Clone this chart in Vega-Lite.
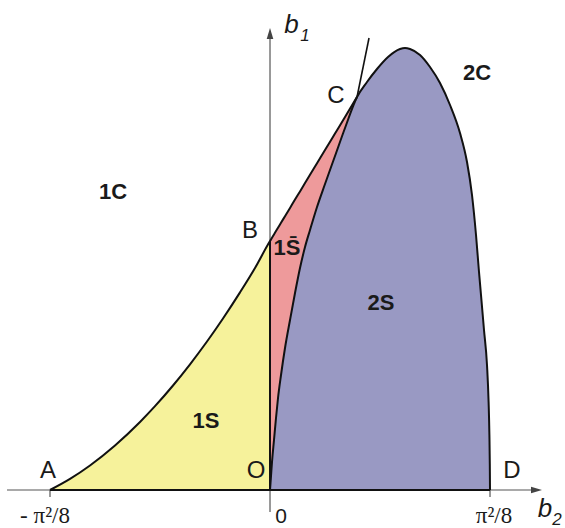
{
  "$schema": "https://vega.github.io/schema/vega-lite/v6.json",
  "width": 565,
  "height": 528,
  "autosize": "none",
  "padding": 0,
  "background": "white",
  "config": {"view": {"stroke": null}, "font": "Liberation Sans"},
  "datasets": {
    "curve1C": [
      {"b2": -1.2337, "b1": 0}, {"b2": -1.1215, "b1": 0.0622}, {"b2": -1.0094, "b1": 0.1374},
      {"b2": -0.8692, "b1": 0.2495}, {"b2": -0.7290, "b1": 0.3813}, {"b2": -0.6449, "b1": 0.4699},
      {"b2": -0.5439, "b1": 0.5860}, {"b2": -0.4486, "b1": 0.7049}, {"b2": -0.3533, "b1": 0.8327},
      {"b2": -0.2636, "b1": 0.9617}, {"b2": -0.1682, "b1": 1.1081}, {"b2": -0.0841, "b1": 1.2449},
      {"b2": 0, "b1": 1.3963}, {"b2": 0.0056, "b1": 1.4053}, {"b2": 0.0112, "b1": 1.4148},
      {"b2": 0.0224, "b1": 1.4333}, {"b2": 0.0336, "b1": 1.4518}, {"b2": 0.0449, "b1": 1.4703},
      {"b2": 0.0617, "b1": 1.4984}, {"b2": 0.0841, "b1": 1.5354}, {"b2": 0.1122, "b1": 1.5819},
      {"b2": 0.1402, "b1": 1.6285}, {"b2": 0.1682, "b1": 1.6744}, {"b2": 0.1963, "b1": 1.7210},
      {"b2": 0.2243, "b1": 1.7675}, {"b2": 0.2636, "b1": 1.8320}, {"b2": 0.3084, "b1": 1.9066},
      {"b2": 0.3645, "b1": 1.9991}, {"b2": 0.4206, "b1": 2.0916}, {"b2": 0.4879, "b1": 2.2038}
    ],
    "band1Sbar": [
      {"b2": 0, "hi": 1.3963, "lo": 0}, {"b2": 0.0056, "hi": 1.4053, "lo": 0.0785},
      {"b2": 0.0112, "hi": 1.4148, "lo": 0.1570}, {"b2": 0.0224, "hi": 1.4333, "lo": 0.2804},
      {"b2": 0.0336, "hi": 1.4518, "lo": 0.4037}, {"b2": 0.0449, "hi": 1.4703, "lo": 0.5159},
      {"b2": 0.0617, "hi": 1.4984, "lo": 0.6449}, {"b2": 0.0841, "hi": 1.5354, "lo": 0.7963},
      {"b2": 0.1122, "hi": 1.5819, "lo": 0.9533}, {"b2": 0.1402, "hi": 1.6285, "lo": 1.1047},
      {"b2": 0.1682, "hi": 1.6744, "lo": 1.2449}, {"b2": 0.1963, "hi": 1.7210, "lo": 1.3626},
      {"b2": 0.2243, "hi": 1.7675, "lo": 1.4580}, {"b2": 0.2636, "hi": 1.8320, "lo": 1.5870},
      {"b2": 0.3084, "hi": 1.9066, "lo": 1.7159}, {"b2": 0.3645, "hi": 1.9991, "lo": 1.8729},
      {"b2": 0.4206, "hi": 2.0916, "lo": 2.0300}, {"b2": 0.4879, "hi": 2.2038, "lo": 2.2038}
    ],
    "curve2S": [
      {"b2": 0, "b1": 0}, {"b2": 0.0056, "b1": 0.0785}, {"b2": 0.0112, "b1": 0.1570},
      {"b2": 0.0224, "b1": 0.2804}, {"b2": 0.0336, "b1": 0.4037}, {"b2": 0.0449, "b1": 0.5159},
      {"b2": 0.0617, "b1": 0.6449}, {"b2": 0.0841, "b1": 0.7963}, {"b2": 0.1122, "b1": 0.9533},
      {"b2": 0.1402, "b1": 1.1047}, {"b2": 0.1682, "b1": 1.2449}, {"b2": 0.1963, "b1": 1.3626},
      {"b2": 0.2243, "b1": 1.4580}, {"b2": 0.2636, "b1": 1.5870}, {"b2": 0.3084, "b1": 1.7159},
      {"b2": 0.3645, "b1": 1.8729}, {"b2": 0.4206, "b1": 2.0300}, {"b2": 0.4879, "b1": 2.2038},
      {"b2": 0.5439, "b1": 2.2879}, {"b2": 0.6000, "b1": 2.3608}, {"b2": 0.6617, "b1": 2.4281},
      {"b2": 0.7290, "b1": 2.4730}, {"b2": 0.7570, "b1": 2.4786}, {"b2": 0.7851, "b1": 2.4730},
      {"b2": 0.8411, "b1": 2.4393}, {"b2": 0.8972, "b1": 2.3720}, {"b2": 0.9533, "b1": 2.2823},
      {"b2": 1.0094, "b1": 2.1589}, {"b2": 1.0654, "b1": 2.0019}, {"b2": 1.1047, "b1": 1.8393},
      {"b2": 1.1327, "b1": 1.6542}, {"b2": 1.1552, "b1": 1.4299}, {"b2": 1.1720, "b1": 1.2225},
      {"b2": 1.1832, "b1": 1.0935}, {"b2": 1.2000, "b1": 0.8972}, {"b2": 1.2168, "b1": 0.7010},
      {"b2": 1.2258, "b1": 0.4935}, {"b2": 1.2303, "b1": 0.3084}, {"b2": 1.2326, "b1": 0.1402},
      {"b2": 1.2337, "b1": 0}
    ],
    "segments": [
      {"kind": "axis", "b2": -1.4748, "b1": 0, "b2end": 1.4900, "b1end": 0},
      {"kind": "axis", "b2": 0, "b1": -0.1234, "b2end": 0, "b1end": 2.5459},
      {"kind": "tick", "b2": -1.2337, "b1": 0, "b2end": -1.2337, "b1end": -0.0393},
      {"kind": "tick", "b2": 1.2337, "b1": 0, "b2end": 1.2337, "b1end": -0.0393},
      {"kind": "edge", "b2": -1.2337, "b1": 0, "b2end": 1.2337, "b1end": 0},
      {"kind": "edge", "b2": 0, "b1": 0, "b2end": 0, "b1end": 1.3963},
      {"kind": "tangent", "b2": 0.4879, "b1": 2.2038, "b2end": 0.5552, "b1end": 2.5347}
    ],
    "arrows": [
      {"dir": "right", "b2": 1.5253, "b1": 0},
      {"dir": "up", "b2": 0, "b1": 2.5907}
    ],
    "points": [
      {"label": "A", "b2": -1.2449, "b1": 0.0673},
      {"label": "O", "b2": -0.0785, "b1": 0.0673},
      {"label": "D", "b2": 1.3571, "b1": 0.0673},
      {"label": "B", "b2": -0.1122, "b1": 1.4131},
      {"label": "C", "b2": 0.3701, "b1": 2.1701}
    ],
    "regions": [
      {"label": "1C", "b2": -0.8804, "b1": 1.6318},
      {"label": "2C", "b2": 1.1608, "b1": 2.2991},
      {"label": "1S", "b2": -0.3589, "b1": 0.3477},
      {"label": "2S", "b2": 0.6224, "b1": 1.0094},
      {"label": "1S̄", "b2": 0.0953, "b1": 1.3178}
    ],
    "tickLabels": [
      {"label": "- π²/8", "b2": -1.2617, "b1": -0.1851},
      {"label": "π²/8", "b2": 1.2561, "b1": -0.1851}
    ],
    "axisTitles": [
      {"label": "b", "b2": 1.5421, "b1": -0.1514},
      {"label": "b", "b2": 0.1206, "b1": 2.5627}
    ],
    "axisSubscripts": [
      {"label": "2", "b2": 1.6094, "b1": -0.1963},
      {"label": "1", "b2": 0.1963, "b1": 2.5178}
    ]
  },
  "encoding": {
    "x": {"field": "b2", "type": "quantitative", "scale": {"domain": [-1.5141, 1.6542], "nice": false, "zero": false}, "axis": null},
    "y": {"field": "b1", "type": "quantitative", "scale": {"domain": [-0.2131, 2.7477], "nice": false, "zero": false}, "axis": null}
  },
  "layer": [
    {
      "data": {"name": "curve1C"},
      "transform": [{"filter": "datum.b2 <= 0"}],
      "mark": {"type": "area", "color": "#f6f29b", "interpolate": "monotone"},
      "encoding": {"y2": {"datum": 0}}
    },
    {
      "data": {"name": "band1Sbar"},
      "mark": {"type": "area", "color": "#ee9a9b", "interpolate": "monotone"},
      "encoding": {"y": {"field": "hi", "type": "quantitative"}, "y2": {"field": "lo"}}
    },
    {
      "data": {"name": "curve2S"},
      "mark": {"type": "area", "color": "#9999c3", "interpolate": "monotone"},
      "encoding": {"y2": {"datum": 0}}
    },
    {
      "data": {"name": "segments"},
      "transform": [{"filter": "datum.kind === 'axis' || datum.kind === 'tick'"}],
      "mark": {"type": "rule", "color": "#555555", "strokeWidth": 1.2},
      "encoding": {"x2": {"field": "b2end"}, "y2": {"field": "b1end"}}
    },
    {
      "data": {"name": "segments"},
      "transform": [{"filter": "datum.kind === 'edge'"}],
      "mark": {"type": "rule", "color": "#111111", "strokeWidth": 2},
      "encoding": {"x2": {"field": "b2end"}, "y2": {"field": "b1end"}}
    },
    {
      "data": {"name": "segments"},
      "transform": [{"filter": "datum.kind === 'tangent'"}],
      "mark": {"type": "rule", "color": "#111111", "strokeWidth": 1.6},
      "encoding": {"x2": {"field": "b2end"}, "y2": {"field": "b1end"}}
    },
    {
      "data": {"name": "curve1C"},
      "mark": {"type": "line", "color": "#111111", "strokeWidth": 2, "interpolate": "monotone"}
    },
    {
      "data": {"name": "curve2S"},
      "mark": {"type": "line", "color": "#111111", "strokeWidth": 2, "interpolate": "monotone"}
    },
    {
      "data": {"name": "arrows"},
      "mark": {"type": "point", "filled": true, "opacity": 1, "color": "#444444", "size": 121},
      "encoding": {
        "shape": {"field": "dir", "type": "nominal", "legend": null,
          "scale": {"domain": ["right", "up"], "range": ["M0,0L-2,-0.6L-2,0.6Z", "M0,0L-0.6,2L0.6,2Z"]}}
      }
    },
    {
      "data": {"name": "points"},
      "mark": {"type": "text", "font": "Liberation Sans", "fontSize": 24, "color": "#1a1a1a", "align": "center", "baseline": "alphabetic"},
      "encoding": {"text": {"field": "label"}}
    },
    {
      "data": {"name": "regions"},
      "mark": {"type": "text", "font": "Liberation Sans", "fontSize": 22, "fontWeight": "bold", "color": "#1a1a1a", "align": "center", "baseline": "alphabetic"},
      "encoding": {"text": {"field": "label"}}
    },
    {
      "data": {"name": "tickLabels"},
      "mark": {"type": "text", "font": "Liberation Serif", "fontSize": 23, "color": "#1a1a1a", "align": "center", "baseline": "alphabetic"},
      "encoding": {"text": {"field": "label"}}
    },
    {
      "data": {"values": [{"label": "0", "b2": 0.0617, "b1": -0.1851}]},
      "mark": {"type": "text", "font": "Liberation Sans", "fontSize": 21, "color": "#1a1a1a", "align": "center", "baseline": "alphabetic"},
      "encoding": {"text": {"field": "label"}}
    },
    {
      "data": {"name": "axisTitles"},
      "mark": {"type": "text", "font": "Liberation Sans", "fontSize": 26, "fontStyle": "italic", "color": "#1a1a1a", "align": "center", "baseline": "alphabetic"},
      "encoding": {"text": {"field": "label"}}
    },
    {
      "data": {"name": "axisSubscripts"},
      "mark": {"type": "text", "font": "Liberation Sans", "fontSize": 17, "fontStyle": "italic", "color": "#1a1a1a", "align": "center", "baseline": "alphabetic"},
      "encoding": {"text": {"field": "label"}}
    }
  ]
}
